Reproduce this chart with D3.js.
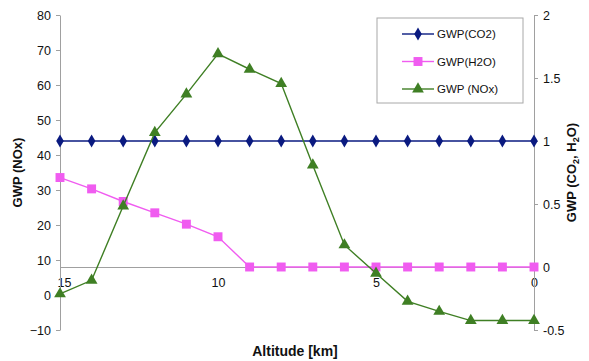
<!DOCTYPE html>
<html>
<head>
<meta charset="utf-8">
<script src="https://cdn.jsdelivr.net/npm/d3@7"></script>
<style>
  body { margin: 0; background: #fff; }
  text { font-family: Arial, "Liberation Sans", Helvetica, sans-serif; }
</style>
</head>
<body>
<div id="chart"></div>
<script>
// Altitude points (km), plotted high -> low from left to right
const altitude = [15, 14, 13, 12, 11, 10, 9, 8, 7, 6, 5, 4, 3, 2, 1, 0];
// right axis
const gwpCO2 = [1, 1, 1, 1, 1, 1, 1, 1, 1, 1, 1, 1, 1, 1, 1, 1];
const gwpH2O = [0.71, 0.62, 0.52, 0.43, 0.34, 0.24, 0, 0, 0, 0, 0, 0, 0, 0, 0, 0];
// left axis
const gwpNOx = [0.3, 4.2, 25.4, 46.4, 57.4, 68.9, 64.5, 60.4, 37.1, 14.3, 6.2, -1.8, -4.7, -7.3, -7.3, -7.3];

const xTicks = [15, 10, 5, 0];
const leftTicks = [-10, 0, 10, 20, 30, 40, 50, 60, 70, 80];
const rightTicks = [-0.5, 0, 0.5, 1, 1.5, 2];

const W = 589, H = 361;
const M = { top: 15, right: 55, bottom: 31, left: 60 };
const iW = W - M.left - M.right;
const iH = H - M.top - M.bottom;

const svg = d3.select("#chart").append("svg")
  .attr("width", W).attr("height", H);
const g = svg.append("g").attr("transform", `translate(${M.left},${M.top})`);

const x = d3.scaleLinear().domain([15, 0]).range([0, iW]);
const yL = d3.scaleLinear().domain([-10, 80]).range([iH, 0]);
const yR = d3.scaleLinear().domain([-0.5, 2]).range([iH, 0]);

const axisCol = "#a0a0a0";

// x axis sits at right-axis zero
g.append("g").attr("transform", `translate(0,${yR(0)})`)
  .call(d3.axisBottom(x).tickValues(xTicks).tickSize(0).tickFormat(d3.format("d")))
  .call(g => g.select(".domain").attr("stroke", axisCol))
  .call(g => g.selectAll("text").attr("fill", "#111").attr("font-size", 12.5)
    .attr("dy", "1.35em").attr("x", d => d === 15 ? 4 : 0));

// left axis
g.append("g")
  .call(d3.axisLeft(yL).tickValues(leftTicks).tickSize(4).tickSizeOuter(0))
  .call(g => g.select(".domain").attr("stroke", axisCol))
  .call(g => g.selectAll(".tick line").attr("stroke", axisCol))
  .call(g => g.selectAll("text").attr("fill", "#111").attr("font-size", 12.5).attr("x", -9));

// right axis
g.append("g").attr("transform", `translate(${iW},0)`)
  .call(d3.axisRight(yR).tickValues(rightTicks).tickSize(4).tickSizeOuter(0)
    .tickFormat(d => String(d)))
  .call(g => g.select(".domain").attr("stroke", axisCol))
  .call(g => g.selectAll(".tick line").attr("stroke", axisCol))
  .call(g => g.selectAll("text").attr("fill", "#111").attr("font-size", 12.5).attr("x", 9));

const series = [
  { name: "GWP(CO2)", values: gwpCO2, y: yR, color: "#0a1a80", mark: d3.symbolDiamond, size: 50 },
  { name: "GWP(H2O)", values: gwpH2O, y: yR, color: "#f05cf0", mark: d3.symbolSquare, size: 80 },
  { name: "GWP (NOx)", values: gwpNOx, y: yL, color: "#3f7f24", mark: d3.symbolTriangle, size: 60 }
];

series.forEach(s => {
  const pts = altitude.map((a, i) => [x(a), s.y(s.values[i])]);
  g.append("path").datum(pts)
    .attr("fill", "none").attr("stroke", s.color).attr("stroke-width", 1.4)
    .attr("d", d3.line());
  g.selectAll(null).data(pts).join("path")
    .attr("transform", d => `translate(${d[0]},${d[1]})`)
    .attr("d", d3.symbol(s.mark, s.size))
    .attr("fill", s.color);
});

// legend
const lg = svg.append("g").attr("transform", "translate(377,18)");
lg.append("rect").attr("width", 146).attr("height", 85)
  .attr("fill", "#fff").attr("stroke", "#a8a8a8").attr("stroke-width", 1);
series.forEach((s, i) => {
  const ly = 16 + i * 27.5;
  lg.append("line").attr("x1", 25).attr("x2", 57).attr("y1", ly).attr("y2", ly)
    .attr("stroke", s.color).attr("stroke-width", 1.4);
  lg.append("path").attr("transform", `translate(41,${ly})`)
    .attr("d", d3.symbol(s.mark, s.size)).attr("fill", s.color);
  lg.append("text").attr("x", 60).attr("y", ly).attr("dy", "0.35em")
    .attr("font-size", 11.5).attr("fill", "#111").text(s.name);
});

// axis titles
svg.append("text")
  .attr("transform", `translate(22,${M.top + iH / 2}) rotate(-90)`)
  .attr("text-anchor", "middle").attr("font-size", 13).attr("font-weight", "bold")
  .attr("fill", "#111").text("GWP (NOx)");

const rt = svg.append("text")
  .attr("transform", `translate(576,${M.top + iH / 2}) rotate(-90)`)
  .attr("text-anchor", "middle").attr("font-size", 13).attr("font-weight", "bold")
  .attr("fill", "#111");
rt.append("tspan").text("GWP (CO");
rt.append("tspan").attr("font-size", 9).attr("dy", 3).text("2");
rt.append("tspan").attr("dy", -3).text(", H");
rt.append("tspan").attr("font-size", 9).attr("dy", 3).text("2");
rt.append("tspan").attr("dy", -3).text("O)");

svg.append("text")
  .attr("x", M.left + iW / 2 - 2).attr("y", 356)
  .attr("text-anchor", "middle").attr("font-size", 14).attr("font-weight", "bold")
  .attr("fill", "#111").text("Altitude [km]");
</script>
</body>
</html>
